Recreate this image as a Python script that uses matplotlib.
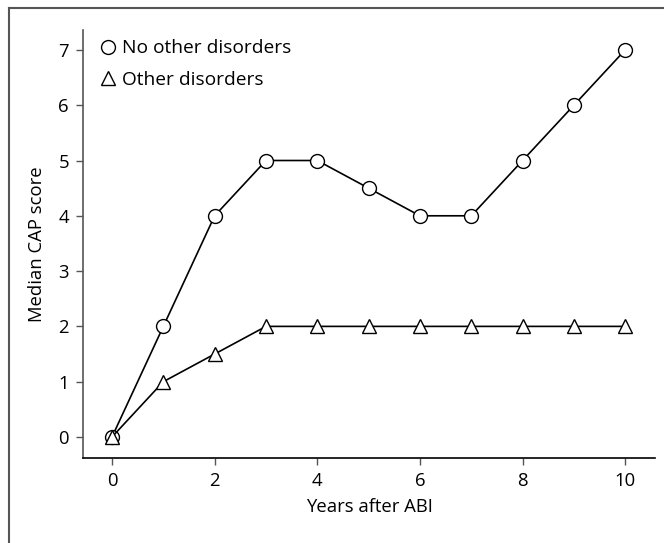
import matplotlib

matplotlib.use("Agg")
import matplotlib.pyplot as plt
from matplotlib.lines import Line2D

# Median CAP score per year after ABI
years = [0, 1, 2, 3, 4, 5, 6, 7, 8, 9, 10]
no_other = [0, 2, 4, 5, 5, 4.5, 4, 4, 5, 6, 7]
other = [0, 1, 1.5, 2, 2, 2, 2, 2, 2, 2, 2]
series_labels = ["No other disorders", "Other disorders"]
x_ticks = [0, 2, 4, 6, 8, 10]
y_ticks = [0, 1, 2, 3, 4, 5, 6, 7]

plt.rcParams["font.family"] = ["Open Sans", "DejaVu Sans"]

W, H = 664, 543
fig = plt.figure(figsize=(W / 100, H / 100), dpi=100)
ax = fig.add_axes([83 / W, 1 - 458 / H, (655 - 83) / W, (458 - 30) / H])

ax.plot(years, no_other, color="black", lw=1.2, marker="o", ms=10,
        mfc="white", mec="black", mew=1.0, label=series_labels[0], zorder=3)
ax.plot(years, other, color="black", lw=1.2, marker="^", ms=10,
        mfc="white", mec="black", mew=1.0, label=series_labels[1], zorder=3)

ax.set_xlim(-0.565, 10.58)
ax.set_ylim(-0.38, 7.36)
ax.set_xticks(x_ticks)
ax.set_yticks(y_ticks)
ax.tick_params(labelsize=13.3, color="#555555", length=5, width=1, pad=5)

for side in ("top", "right"):
    ax.spines[side].set_visible(False)
ax.spines["left"].set_color("#555555")
ax.spines["bottom"].set_color("black")
for sp in ("left", "bottom"):
    ax.spines[sp].set_linewidth(1.2)

ax.set_xlabel("Years after ABI", fontsize=13.3, labelpad=6)
ax.set_ylabel("Median CAP score", fontsize=13.3, labelpad=9)

handles = [
    Line2D([], [], ls="none", marker="o", ms=10, mfc="white", mec="black", mew=1.0),
    Line2D([], [], ls="none", marker="^", ms=10, mfc="white", mec="black", mew=1.0),
]
ax.legend(handles, series_labels, loc="upper left", frameon=False,
          fontsize=13.8, handlelength=0.8, handletextpad=0.35, labelspacing=0.72,
          borderaxespad=0.0, bbox_to_anchor=(0.0165, 0.996))

# outer frame (top and left edges visible)
fx = 9 / W
fy = 1 - 8 / H
fig.add_artist(Line2D([fx, 1], [fy, fy], transform=fig.transFigure,
                      color="#555555", lw=1.5))
fig.add_artist(Line2D([fx, fx], [0, fy], transform=fig.transFigure,
                      color="#555555", lw=1.5))

fig.savefig("out.png", dpi=100)
